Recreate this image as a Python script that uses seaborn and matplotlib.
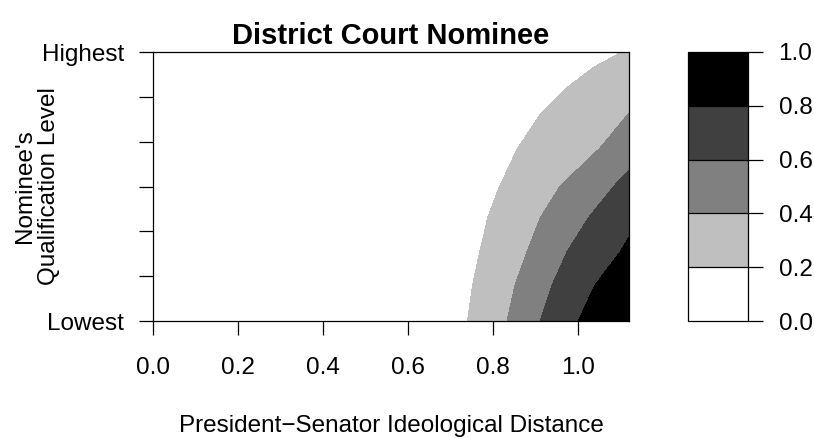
import numpy as np
import matplotlib
matplotlib.use('Agg')
import matplotlib.pyplot as plt
import seaborn as sns

# contour crossings: x position of each level line per y row
level_02_y = [0.0, 0.134, 0.257, 0.383, 0.502, 0.643, 0.767, 0.866, 0.941, 1.0]
level_02_x = [0.741, 0.753, 0.769, 0.788, 0.816, 0.859, 0.911, 0.973, 1.035, 1.103]
level_04_y = [0.0, 0.134, 0.257, 0.383, 0.502, 0.643, 0.773]
level_04_x = [0.833, 0.852, 0.880, 0.911, 0.958, 1.052, 1.12]
level_06_y = [0.0, 0.134, 0.257, 0.383, 0.506, 0.561]
level_06_x = [0.911, 0.939, 0.974, 1.024, 1.087, 1.12]
level_08_y = [0.0, 0.134, 0.257, 0.312]
level_08_x = [1.0, 1.04, 1.099, 1.12]
# probability on the right edge of the plot (distance = 1.12)
edge_y = [0.0, 0.312, 0.561, 0.773, 1.0]
edge_p = [0.92, 0.8, 0.6, 0.4, 0.22]

levels = [0.0, 0.2, 0.4, 0.6, 0.8, 1.0]
fill_colors = ['#FFFFFF', '#BFBFBF', '#808080', '#404040', '#000000']
x_ticks = [0.0, 0.2, 0.4, 0.6, 0.8, 1.0]
y_tick_labels = ['Lowest', '', '', '', '', '', 'Highest']
x_max = 1.12

# build the probability surface row by row from the crossings
curves = [(0.2, level_02_y, level_02_x), (0.4, level_04_y, level_04_x),
          (0.6, level_06_y, level_06_x), (0.8, level_08_y, level_08_x)]
xg = np.linspace(0, x_max, 500)
yg = np.linspace(0, 1, 400)
Z = np.zeros((len(yg), len(xg)))
for i, yv in enumerate(yg):
    xs, ps = [0.0], [0.0]
    for lev, cy, cx in curves:
        if yv <= cy[-1]:
            xs.append(min(np.interp(yv, cy, cx), x_max - 1e-6))
            ps.append(lev)
    xs.append(x_max)
    ps.append(np.interp(yv, edge_y, edge_p))
    Z[i] = np.interp(xg, xs, ps)

sns.set_theme(style='ticks')
plt.rcParams['font.family'] = ['Liberation Sans', 'DejaVu Sans']
plt.rcParams['axes.linewidth'] = 0.9
plt.rcParams['xtick.color'] = 'black'
plt.rcParams['ytick.color'] = 'black'
plt.rcParams['axes.edgecolor'] = 'black'
plt.rcParams['axes.labelcolor'] = 'black'
plt.rcParams['text.color'] = 'black'

fs = 17.5
fig = plt.figure(figsize=(8.14, 4.38), dpi=100)
W, H = 814, 438
ax = fig.add_axes([153 / W, 1 - 321 / H, 476 / W, 269 / H])
cax = fig.add_axes([688 / W, 1 - 321 / H, 60 / W, 269 / H])

cs = ax.contourf(xg, yg, Z, levels=levels, colors=fill_colors)
ax.set_xlim(0, x_max)
ax.set_ylim(0, 1)
ax.set_xticks(x_ticks)
ax.set_xticklabels([f'{t:.1f}' for t in x_ticks])
ax.set_yticks(np.linspace(0, 1, len(y_tick_labels)))
ax.set_yticklabels(y_tick_labels)
ax.tick_params(axis='both', labelsize=fs, colors='black', length=10, width=0.9)
ax.tick_params(axis='x', pad=16)
ax.tick_params(axis='y', pad=11)
for s in ax.spines.values():
    s.set_visible(True)
    s.set_color('black')

ax.set_title('District Court Nominee', fontsize=fs * 1.2, fontweight='bold',
             pad=6, color='black')
ax.set_xlabel('President\u2212Senator Ideological Distance', fontsize=fs, color='black')
ax.xaxis.set_label_coords(0.5, -0.35)
ax.set_ylabel("Nominee's\nQualification Level", fontsize=fs, linespacing=1.1, color='black')
ax.yaxis.set_label_coords(-0.195, 0.5)

cb = fig.colorbar(cs, cax=cax, drawedges=True)
cb.outline.set_edgecolor('black')
cb.outline.set_linewidth(0.9)
cb.dividers.set_color('black')
cb.dividers.set_linewidth(0.9)
cb.set_ticks(levels)
cb.set_ticklabels([f'{v:.1f}' for v in levels])
cax.tick_params(labelsize=fs, colors='black', length=11, width=0.9, pad=11)

fig.savefig('out.png', dpi=100)
